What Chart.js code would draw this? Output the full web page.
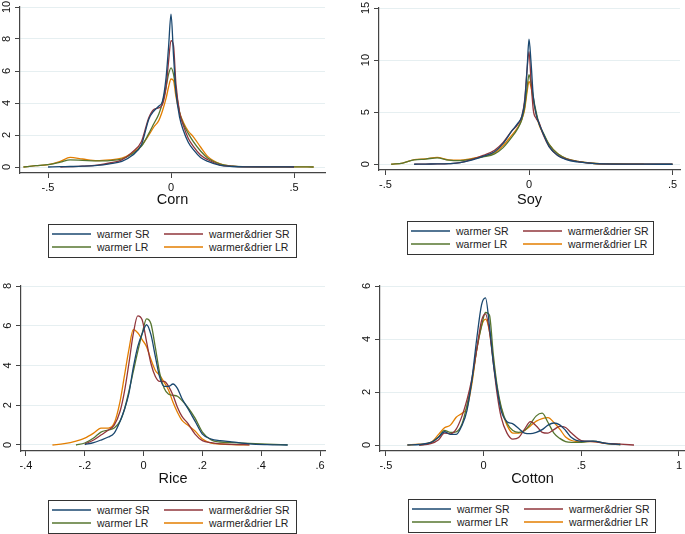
<!DOCTYPE html>
<html>
<head>
<meta charset="utf-8">
<script src="https://cdn.jsdelivr.net/npm/chart.js@4.4.1/dist/chart.umd.min.js"></script>
<style>
  body { margin: 0; background: #fff; font-family: "Liberation Sans", Arial, sans-serif; }
  #page { position: relative; width: 685px; height: 534px; overflow: hidden; background: #fff; }
  .panel { position: absolute; }
  .legend { position: absolute; box-sizing: border-box; border: 1px solid #333; background: #fff; }
  .legend-item { position: absolute; height: 14px; font-size: 10.5px; line-height: 14px; color: #222; white-space: nowrap; }
  .legend-line { position: absolute; left: 0; top: 6px; width: 39px; height: 2px; opacity: 0.75; }
  .legend-text { position: absolute; left: 45px; top: 0; }
</style>
</head>
<body>
<div id="page"></div>
<script>
// series shared by all four panels
const seriesNames = ['warmer SR', 'warmer&drier SR', 'warmer LR', 'warmer&drier LR'];
const seriesColors = ['#1a476f', '#90353b', '#55752f', '#e37e00'];

// Corn
const cornX = [-0.6, -0.55, -0.5, -0.45, -0.41, -0.36, -0.3, -0.25, -0.2, -0.16, -0.12, -0.09, -0.07, -0.05, -0.035, -0.02, -0.01, 0, 0.01, 0.02, 0.035, 0.05, 0.07, 0.09, 0.12, 0.15, 0.2, 0.25, 0.3, 0.4, 0.5, 0.58];
const cornWarmerSR = [null, null, 0, 0.02, 0.03, 0.05, 0.1, 0.2, 0.35, 0.7, 1.4, 3.0, 3.5, 3.8, 4.1, 5.6, 7.5, 9.55, 7.0, 4.7, 3.1, 2.3, 1.55, 1.1, 0.6, 0.35, 0.1, 0.03, 0.01, 0.01, 0.01, null];
const cornDrierSR = [null, null, null, 0, 0.02, 0.05, 0.12, 0.25, 0.45, 0.9, 1.6, 3.1, 3.6, 3.7, 3.9, 5.0, 6.6, 7.9, 7.6, 5.2, 3.4, 2.6, 1.8, 1.3, 0.75, 0.45, 0.12, 0.04, 0.01, 0.01, 0, null];
const cornWarmerLR = [0, 0.08, 0.15, 0.3, 0.45, 0.42, 0.38, 0.4, 0.5, 0.8, 1.3, 2.1, 2.7, 3.3, 4.0, 5.0, 5.8, 6.2, 5.8, 4.8, 3.4, 2.7, 2.1, 1.6, 1.0, 0.55, 0.18, 0.05, 0.02, 0.01, 0.01, 0];
const cornDrierLR = [0, 0.08, 0.15, 0.35, 0.6, 0.5, 0.4, 0.45, 0.55, 0.85, 1.35, 2.0, 2.5, 2.9, 3.5, 4.3, 5.0, 5.5, 5.4, 4.4, 3.4, 2.8, 2.25, 1.9, 1.25, 0.65, 0.2, 0.06, 0.02, 0.01, 0.01, 0];
const cornXTicks = [-0.5, 0, 0.5];
const cornXLabels = ['-.5', '0', '.5'];
const cornYTicks = [0, 2, 4, 6, 8, 10];

// Soy
const soyX = [-0.48, -0.44, -0.4, -0.36, -0.32, -0.28, -0.24, -0.2, -0.16, -0.12, -0.09, -0.06, -0.04, -0.025, -0.015, -0.007, 0, 0.007, 0.015, 0.025, 0.035, 0.05, 0.07, 0.1, 0.13, 0.17, 0.22, 0.3, 0.4, 0.5];
const soyWarmerSR = [null, null, 0, 0.02, 0.03, 0.06, 0.15, 0.4, 0.75, 1.2, 2.0, 3.2, 3.9, 4.6, 6.0, 9.0, 12.0, 9.8, 6.5, 4.8, 3.9, 2.9, 1.7, 0.85, 0.45, 0.22, 0.08, 0.02, 0.01, 0];
const soyDrierSR = [null, null, 0, 0.02, 0.03, 0.06, 0.15, 0.45, 0.85, 1.35, 2.1, 3.2, 3.8, 4.6, 6.2, 9.0, 10.8, 8.0, 5.2, 4.4, 4.0, 2.8, 1.7, 0.85, 0.5, 0.25, 0.08, 0.02, 0.01, 0];
const soyWarmerLR = [0, 0.12, 0.42, 0.5, 0.62, 0.4, 0.35, 0.5, 0.7, 1.0, 1.6, 2.6, 3.4, 4.3, 5.5, 7.3, 8.6, 7.8, 6.4, 5.0, 3.9, 3.0, 1.9, 1.0, 0.55, 0.28, 0.1, 0.03, 0.01, 0];
const soyDrierLR = [0, 0.12, 0.45, 0.52, 0.66, 0.42, 0.4, 0.55, 0.75, 1.1, 1.8, 2.8, 3.5, 4.3, 5.3, 6.9, 7.95, 7.4, 6.1, 4.8, 3.8, 2.9, 1.9, 1.0, 0.55, 0.28, 0.1, 0.03, 0.01, null];
const soyXTicks = [-0.5, 0, 0.5];
const soyXLabels = ['-.5', '0', '.5'];
const soyYTicks = [0, 5, 10, 15];

// Rice
const riceX = [-0.31, -0.27, -0.23, -0.2, -0.17, -0.145, -0.12, -0.1, -0.08, -0.065, -0.05, -0.035, -0.02, -0.005, 0.01, 0.025, 0.04, 0.055, 0.07, 0.085, 0.1, 0.115, 0.13, 0.15, 0.175, 0.2, 0.23, 0.26, 0.3, 0.36, 0.42, 0.49];
const riceWarmerSR = [null, null, null, 0.02, 0.12, 0.25, 0.4, 0.6, 1.2, 1.8, 2.6, 3.9, 4.95, 5.6, 6.05, 5.55, 4.45, 3.4, 2.95, 2.95, 3.07, 2.85, 2.35, 1.85, 1.2, 0.55, 0.3, 0.22, 0.16, 0.06, 0.02, 0];
const riceDrierSR = [null, null, null, 0.05, 0.25, 0.5, 0.75, 1.0, 1.7, 2.7, 4.1, 5.6, 6.5, 6.3, 5.2, 4.1, 3.45, 3.2, 3.2, 2.95, 2.5, 1.9, 1.45, 1.1, 0.55, 0.22, 0.12, 0.06, 0.03, 0.01, null, null];
const riceWarmerLR = [null, null, 0, 0.1, 0.35, 0.65, 0.75, 0.85, 1.2, 1.8, 2.7, 3.7, 4.7, 5.6, 6.35, 6.1, 4.9, 3.6, 2.85, 2.55, 2.5, 2.45, 2.25, 1.9, 1.35, 0.65, 0.25, 0.15, 0.12, 0.08, 0.04, 0.01];
const riceDrierLR = [0, 0.07, 0.2, 0.35, 0.6, 0.85, 0.85, 1.1, 2.2, 3.5, 4.8, 5.8, 5.65, 5.3, 4.95, 4.3, 3.75, 3.5, 3.15, 2.75, 2.15, 1.65, 1.25, 1.0, 0.7, 0.3, 0.1, 0.05, 0.02, 0.01, null, null];
const riceXTicks = [-0.4, -0.2, 0, 0.2, 0.4, 0.6];
const riceXLabels = ['-.4', '-.2', '0', '.2', '.4', '.6'];
const riceYTicks = [0, 2, 4, 6, 8];

// Cotton
const cottonX = [-0.39, -0.33, -0.27, -0.23, -0.2, -0.17, -0.14, -0.11, -0.085, -0.06, -0.035, -0.01, 0.01, 0.03, 0.05, 0.07, 0.09, 0.12, 0.15, 0.18, 0.21, 0.24, 0.27, 0.3, 0.33, 0.36, 0.39, 0.42, 0.45, 0.5, 0.56, 0.63, 0.7, 0.77];
const cottonWarmerSR = [0, 0.02, 0.1, 0.3, 0.5, 0.4, 0.4, 0.75, 1.3, 2.45, 4.0, 5.3, 5.55, 4.5, 3.1, 2.1, 1.3, 0.88, 0.8, 0.62, 0.45, 0.43, 0.48, 0.58, 0.75, 0.83, 0.76, 0.55, 0.28, 0.14, 0.15, 0.06, 0.02, null];
const cottonDrierSR = [null, 0, 0.05, 0.2, 0.45, 0.42, 0.6, 1.1, 1.7, 2.5, 3.6, 4.7, 4.95, 4.3, 3.1, 1.9, 1.05, 0.45, 0.22, 0.28, 0.6, 0.88, 0.72, 0.48, 0.45, 0.58, 0.7, 0.66, 0.45, 0.17, 0.13, 0.06, 0.03, 0];
const cottonWarmerLR = [null, 0, 0.08, 0.3, 0.55, 0.48, 0.5, 0.8, 1.5, 2.4, 3.6, 4.5, 5.0, 4.9, 3.4, 2.2, 1.45, 0.82, 0.55, 0.48, 0.55, 0.8, 1.1, 1.2, 0.85, 0.45, 0.25, 0.13, 0.1, 0.1, 0.15, 0.05, 0.02, null];
const cottonDrierLR = [0, 0.03, 0.1, 0.4, 0.65, 0.75, 1.05, 1.2, 1.4, 2.3, 3.6, 4.5, 4.75, 4.3, 3.2, 2.1, 1.4, 0.75, 0.45, 0.45, 0.55, 0.72, 0.9, 1.0, 1.03, 0.85, 0.6, 0.3, 0.17, 0.12, 0.13, 0.05, 0.02, null];
const cottonXTicks = [-0.5, 0, 0.5, 1];
const cottonXLabels = ['-.5', '0', '.5', '1'];
const cottonYTicks = [0, 2, 4, 6];

// look
const fontFamily = '"Liberation Sans", Arial, Helvetica, sans-serif';
const axisColor = '#444';
const gridColor = '#e6eff1';
const textColor = '#111';

// panel frames (page pixels)
const panels = [
    { title: 'Corn', x: cornX, series: [cornWarmerSR, cornDrierSR, cornWarmerLR, cornDrierLR],
      xTicks: cornXTicks, xLabels: cornXLabels, yTicks: cornYTicks,
      xMin: -0.614, xMax: 0.626, yMin: -0.375, yMax: 10,
      left: 0, top: 0, width: 340, area: { left: 20, right: 325, top: 7, bottom: 173 }, titleGap: 36, yPad: 2.4,
      legend: { left: 48, top: 224, width: 249, height: 34 } },
    { title: 'Soy', x: soyX, series: [soyWarmerSR, soyDrierSR, soyWarmerLR, soyDrierLR],
      xTicks: soyXTicks, xLabels: soyXLabels, yTicks: soyYTicks,
      xMin: -0.5226, xMax: 0.526, yMin: -0.55, yMax: 15,
      left: 340, top: 0, width: 345, area: { left: 39, right: 340, top: 8, bottom: 170 }, titleGap: 39, yPad: 2.4,
      legend: { left: 407, top: 221, width: 247, height: 34 } },
    { title: 'Rice', x: riceX, series: [riceWarmerSR, riceDrierSR, riceWarmerLR, riceDrierLR],
      xTicks: riceXTicks, xLabels: riceXLabels, yTicks: riceYTicks,
      xMin: -0.417, xMax: 0.617, yMin: -0.302, yMax: 8,
      left: 0, top: 270, width: 340, area: { left: 21, right: 325, top: 16, bottom: 181 }, titleGap: 37, yPad: 5.4,
      legend: { left: 48, top: 500, width: 249, height: 34 } },
    { title: 'Cotton', x: cottonX, series: [cottonWarmerSR, cottonDrierSR, cottonWarmerLR, cottonDrierLR],
      xTicks: cottonXTicks, xLabels: cottonXLabels, yTicks: cottonYTicks,
      xMin: -0.53, xMax: 1.031, yMin: -0.226, yMax: 6,
      left: 340, top: 270, width: 345, area: { left: 40, right: 345, top: 16, bottom: 181 }, titleGap: 37, yPad: 5.4,
      legend: { left: 408, top: 499, width: 248, height: 34 } }
];

const page = document.getElementById('page');
const legendColX = [3, 115];
const legendRowY = [2, 15];

panels.forEach(p => {
    drawPanel(p);
    drawLegend(p.legend);
});

function drawPanel(p) {
    const wrap = document.createElement('div');
    wrap.className = 'panel';
    wrap.style.left = p.left + 'px';
    wrap.style.top = p.top + 'px';

    const h = p.area.bottom + p.titleGap + 2;
    const canvas = document.createElement('canvas');
    canvas.width = p.width;
    canvas.height = h;
    canvas.style.width = p.width + 'px';
    canvas.style.height = h + 'px';
    wrap.appendChild(canvas);
    page.appendChild(wrap);

    new Chart(canvas.getContext('2d'), {
        type: 'line',
        data: {
            datasets: p.series.map((ys, i) => ({
                label: seriesNames[i],
                data: p.x.map((x, j) => ({ x: x, y: ys[j] })),
                borderColor: seriesColors[i],
                borderWidth: 1.3,
                pointRadius: 0,
                cubicInterpolationMode: 'monotone',
                fill: false
            }))
        },
        options: {
            responsive: false,
            animation: false,
            events: [],
            layout: { padding: { left: 0, right: p.width - p.area.right, top: p.area.top, bottom: 2 } },
            plugins: { legend: { display: false }, tooltip: { enabled: false } },
            scales: {
                x: {
                    type: 'linear', min: p.xMin, max: p.xMax, bounds: 'data',
                    afterBuildTicks: s => { s.ticks = p.xTicks.map(v => ({ value: v })); },
                    afterFit: s => { s.height = p.titleGap; s.paddingLeft = 0; s.paddingRight = 0; },
                    grid: { drawOnChartArea: false, color: axisColor, tickColor: axisColor, tickLength: 5, lineWidth: 1 },
                    border: { color: axisColor, width: 1.2 },
                    ticks: {
                        callback: (v, i) => p.xLabels[i],
                        font: { family: fontFamily, size: 11 }, color: textColor,
                        padding: 3, minRotation: 0, maxRotation: 0, autoSkip: false
                    },
                    title: { display: true, text: p.title, font: { family: fontFamily, size: 14.5 }, color: textColor, padding: 0 }
                },
                y: {
                    type: 'linear', min: p.yMin, max: p.yMax, bounds: 'data',
                    afterBuildTicks: s => { s.ticks = p.yTicks.map(v => ({ value: v })); },
                    afterFit: s => { s.width = p.area.left; s.paddingTop = 0; s.paddingBottom = 0; },
                    grid: { color: gridColor, tickColor: axisColor, tickLength: 5, lineWidth: 1 },
                    border: { color: axisColor, width: 1.2 },
                    ticks: {
                        callback: (v, i) => String(p.yTicks[i]),
                        font: { family: fontFamily, size: 11 }, color: textColor,
                        minRotation: 90, maxRotation: 90, crossAlign: 'center',
                        padding: p.yPad, autoSkip: false
                    }
                }
            }
        }
    });
}

function drawLegend(box) {
    const el = document.createElement('div');
    el.className = 'legend';
    el.style.left = box.left + 'px';
    el.style.top = box.top + 'px';
    el.style.width = box.width + 'px';
    el.style.height = box.height + 'px';

    seriesNames.forEach((name, i) => {
        const item = document.createElement('div');
        item.className = 'legend-item';
        item.style.left = legendColX[i % 2] + 'px';
        item.style.top = legendRowY[Math.floor(i / 2)] + 'px';

        const line = document.createElement('div');
        line.className = 'legend-line';
        line.style.background = seriesColors[i];

        const text = document.createElement('span');
        text.className = 'legend-text';
        text.textContent = name;

        item.appendChild(line);
        item.appendChild(text);
        el.appendChild(item);
    });

    page.appendChild(el);
}
</script>
</body>
</html>
